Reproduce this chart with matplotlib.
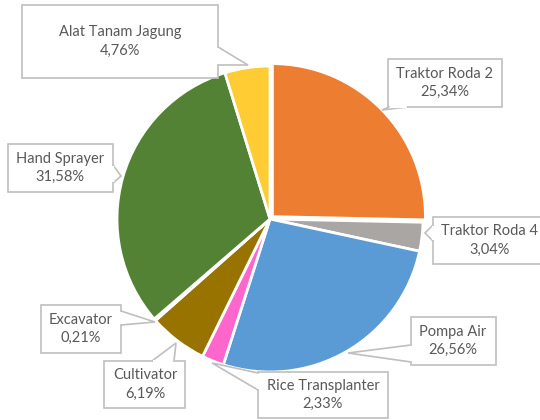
import matplotlib
matplotlib.use('Agg')
import matplotlib.pyplot as plt
from matplotlib.patches import Rectangle, Polygon

plt.rcParams['font.family'] = ['Lato', 'DejaVu Sans']

# data (percent)
categories = ['Traktor Roda 2', 'Traktor Roda 4', 'Pompa Air', 'Rice Transplanter',
              'Cultivator', 'Excavator', 'Hand Sprayer', 'Alat Tanam Jagung']
shares = [25.34, 3.04, 26.56, 2.33, 6.19, 0.21, 31.58, 4.76]
colors = ['#ED7D31', '#A9A6A4', '#5B9BD5', '#FF66CC',
          '#997300', '#264478', '#548235', '#FFCD33']

# layout in figure pixels (x from left, y from top)
CX, CY, R = 270, 219, 153
W, H = 540, 420


def px(x, y):
    return ((x - CX) / R, (CY - y) / R)


# box (x0, y0, x1, y1), pointer tip, pointer base points, text centre x
callouts = {
    'Alat Tanam Jagung': ((22, 5, 218, 78), (248, 65), ((218, 47), (218, 65)), 120),
    'Traktor Roda 2': ((388, 59, 502, 107), (382, 110), ((389, 107), (408, 107)), 445),
    'Traktor Roda 4': ((433, 217, 560, 264), (425, 233), ((433, 225), (433, 241)), 490),
    'Pompa Air': ((411, 317, 496, 365), (348, 353), ((411, 345), (411, 362)), 453),
    'Rice Transplanter': ((258, 372, 388, 418), (212, 363), ((258, 373), (258, 390)), 323),
    'Cultivator': ((104, 361, 185, 408), (176, 343), ((152, 361), (174, 361)), 145),
    'Excavator': ((41, 305, 121, 353), (155, 322), ((121, 311), (121, 325)), 81),
    'Hand Sprayer': ((8, 144, 113, 192), (121, 176), ((113, 165), (113, 183)), 60),
}

fig = plt.figure(figsize=(W / 100, H / 100), dpi=100)
ax = fig.add_axes([0, 0, 1, 1])

explode = [0.022 if c == 'Traktor Roda 2' else 0 for c in categories]
ax.pie(shares, colors=colors, startangle=90, counterclock=False, explode=explode,
       wedgeprops=dict(edgecolor='white', linewidth=2))

edge = '#BFBFBF'
for name, share in zip(categories, shares):
    (x0, y0, x1, y1), tip, base, tx = callouts[name]
    ax.add_patch(Rectangle(px(x0, y1), (x1 - x0) / R, (y1 - y0) / R,
                           facecolor='white', edgecolor=edge, lw=1.2, zorder=3))
    ax.add_patch(Polygon([px(*base[0]), px(*tip), px(*base[1])], closed=False,
                         facecolor='white', edgecolor=edge, lw=1.2, zorder=4))
    # open the box border where the pointer joins
    (bx0, by0), (bx1, by1) = base
    sx = 1 if bx1 > bx0 else 0
    sy = 1 if by1 > by0 else 0
    ax.plot(*zip(px(bx0 + sx, by0 + sy), px(bx1 - sx, by1 - sy)),
            color='white', lw=1.6, zorder=4.5, solid_capstyle='butt')
    label = f"{name}\n{share:.2f}%".replace('.', ',')
    ax.text(*px(tx, (y0 + y1) / 2), label,
            ha='center', va='center', fontsize=10.5, color='#595959',
            linespacing=1.4, zorder=5)

ax.set_xlim(-CX / R, (W - CX) / R)
ax.set_ylim(-(H - CY) / R, CY / R)
ax.set_aspect('auto')
ax.axis('off')

fig.savefig('out.png', dpi=100)
